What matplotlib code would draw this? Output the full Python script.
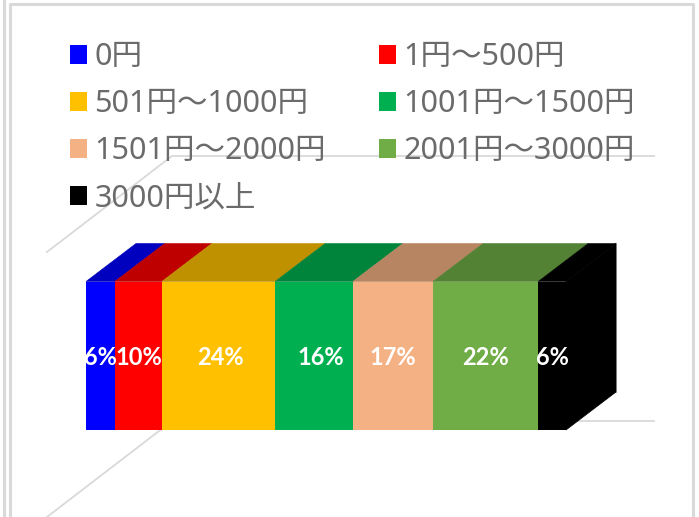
import matplotlib
matplotlib.use('Agg')
import matplotlib.pyplot as plt
from matplotlib.patches import Polygon, Patch
from matplotlib.colors import to_rgb

W = 699
H = 517

categories = ['0円', '1円～500円', '501円～1000円', '1001円～1500円',
              '1501円～2000円', '2001円～3000円', '3000円以上']
values = [6.0, 9.8, 23.6, 16.2, 16.7, 21.9, 5.8]
colors = ['#0000FF', '#FF0000', '#FFC000', '#00B050', '#F4B183', '#70AD47', '#000000']
label_nudge = [0, 1, 2, 7, 0, 0, 0]

# front face of the bar in pixels
LEFT, RIGHT, TOP, BOTTOM = 86, 566, 281.5, 430
DEPTH_X = 50 / (RIGHT - LEFT) * 100
DEPTH_Y = 38 / (BOTTOM - TOP)
GRID = '#d9d9d9'
FONTS = ['Noto Sans', 'Noto Sans CJK JP', 'DejaVu Sans']


def px(x, y):
    return (x - LEFT) / (RIGHT - LEFT) * 100, (BOTTOM - y) / (BOTTOM - TOP)


def darker(c):
    return tuple(v * 0.75 for v in to_rgb(c))


fig = plt.figure(figsize=(W / 100, H / 100), dpi=100)
ax = fig.add_axes([LEFT / W, (H - BOTTOM) / H, (RIGHT - LEFT) / W, (BOTTOM - TOP) / H])
ax.set_xlim(0, 100)
ax.set_ylim(0, 1)
ax.axis('off')

# floor and upper grid lines of the 3d box
for pts in ([(47, 517), (172, 421), (654, 421)], [(47, 252), (172, 156), (654, 156)]):
    xs, ys = zip(*[px(*p) for p in pts])
    ax.plot(xs, ys, color=GRID, lw=1.3, clip_on=False, zorder=1)

left = 0
for i, (v, c) in enumerate(zip(values, colors)):
    ax.barh(0.5, v, height=1, left=left, color=c, linewidth=0, zorder=3)
    top = [(left, 1), (left + v, 1), (left + v + DEPTH_X, 1 + DEPTH_Y), (left + DEPTH_X, 1 + DEPTH_Y)]
    ax.add_patch(Polygon(top, closed=True, facecolor=darker(c), edgecolor=darker(c), linewidth=0.4,
                         clip_on=False, zorder=2))
    ax.annotate(f'{round(v)}%', (left + v / 2, 0.5), xytext=(label_nudge[i] * 0.72, -1),
                textcoords='offset points', ha='center', va='center', color='white',
                fontsize=17, fontweight='bold', family='Lato', zorder=5)
    left += v

# right side of the last segment
total = sum(values)
side = [(total, 0), (total + DEPTH_X, DEPTH_Y), (total + DEPTH_X, 1 + DEPTH_Y), (total, 1)]
ax.plot([total + DEPTH_X] * 2, [DEPTH_Y, 1 + DEPTH_Y], color='#bfbfbf', lw=1.5, clip_on=False, zorder=1)
ax.add_patch(Polygon(side, closed=True, facecolor=colors[-1], edgecolor=colors[-1], linewidth=0.5,
                     clip_on=False, zorder=2.5))

# legend fills columns first
handles = [Patch(facecolor=c, linewidth=0) for c in colors]
order = [0, 2, 4, 6, 1, 3, 5]
leg = fig.legend([handles[i] for i in order], [categories[i] for i in order],
                 ncol=2, loc='upper left', bbox_to_anchor=(70 / W, 1 - 42 / H),
                 frameon=False, handlelength=0.56, handleheight=0.56,
                 handletextpad=0.24, labelspacing=0.56, columnspacing=1.73,
                 borderpad=0, borderaxespad=0, prop={'family': FONTS, 'size': 22})
for t in leg.get_texts():
    t.set_color('#6b6b6b')

# outer chart frame, open at the bottom
for xs, ys in (([9.5, 9.5, 693, 693], [517, 4, 4, 517]), ([4, 4], [517, 0])):
    fig.add_artist(plt.Line2D([x / W for x in xs], [1 - y / H for y in ys], color=GRID, lw=2.2))

fig.savefig('out.png', dpi=100, facecolor='white')
